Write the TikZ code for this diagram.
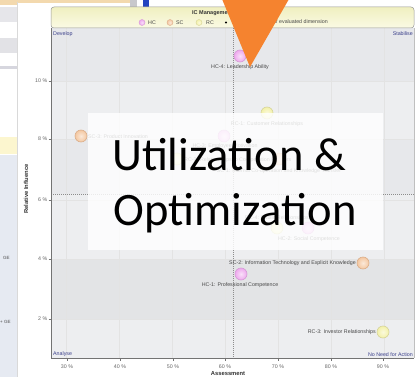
\documentclass[tikz,border=0pt]{standalone}
\usepackage{fontspec}
\setmainfont{Liberation Sans}
\newfontfamily\bigfont{Carlito}
\definecolor{hcf}{HTML}{EEA8EE}
\definecolor{hcd}{HTML}{D69AD6}
\definecolor{scf}{HTML}{F4C7A0}
\definecolor{scd}{HTML}{DBAE8A}
\definecolor{rcf}{HTML}{F3F1A8}
\definecolor{rcd}{HTML}{D6D49A}
\definecolor{orng}{HTML}{F5832F}
\definecolor{quadc}{HTML}{3A3F8A}
\definecolor{bandA}{HTML}{E7E8EB}
\definecolor{bandB}{HTML}{EDEEF0}
\definecolor{bandC}{HTML}{E3E4E6}
\definecolor{hdrtop}{HTML}{F0EFC0}
\definecolor{hdrbot}{HTML}{FAFAE4}
\definecolor{stripc}{HTML}{E6EAF2}
\definecolor{tanc}{HTML}{F3D9AE}
\definecolor{grayA}{HTML}{E6E6EA}
\definecolor{grayB}{HTML}{E2E2E6}
\definecolor{grayC}{HTML}{D6D6DE}
\definecolor{yelc}{HTML}{FCF6CF}
\definecolor{grayD}{HTML}{C8C8CC}
\definecolor{bluec}{HTML}{2344C0}
\begin{document}
\begin{tikzpicture}[x=1pt,y=-1pt,
  lbl/.style={font=\fontsize{5.3}{6}\selectfont, text=black!72, inner sep=0pt},
  ticklbl/.style={font=\fontsize{5.3}{6}\selectfont, text=black!60, inner sep=0pt},
  quadlbl/.style={font=\fontsize{5.3}{6}\selectfont, text=quadc, inner sep=0pt},
  axlbl/.style={font=\bfseries\fontsize{5.8}{6.5}\selectfont, text=black!80, inner sep=0pt},
  bigtxt/.style={font=\bigfont\fontsize{46.5}{50}\selectfont, text=black, inner sep=0pt, anchor=base},
  hcdot/.style={circle, minimum size=12pt, inner sep=0pt, draw=hcd, line width=0.6pt, inner color=hcf!35, outer color=hcf},
  scdot/.style={circle, minimum size=12pt, inner sep=0pt, draw=scd, line width=0.6pt, inner color=scf!40, outer color=scf},
  rcdot/.style={circle, minimum size=12pt, inner sep=0pt, draw=rcd, line width=0.6pt, inner color=rcf!40, outer color=rcf},
  gridl/.style={draw=black!11, line width=0.4pt},
  meanl/.style={draw=black!45, line width=0.5pt, dash pattern=on 1pt off 1pt}]
\useasboundingbox (0,0) rectangle (417,377);
\fill[white] (0,0) rectangle (417,377);
% background application strip
\fill[tanc] (0,0) rectangle (130,3);
\fill[tanc] (0,0) rectangle (17,5);
\fill[grayA] (0,7) rectangle (17,22);
\fill[grayB] (0,38) rectangle (17,53);
\fill[grayC] (0,66) rectangle (17,69);
\fill[yelc] (0,137) rectangle (17,154);
\fill[stripc] (0,155) rectangle (17,377);
\node[font=\fontsize{4.5}{5}\selectfont, text=black!70, inner sep=0pt, anchor=west] (ge1) at (3,258) {GE};
\node[font=\fontsize{4.5}{5}\selectfont, text=black!70, inner sep=0pt, anchor=west] (ge2) at (0,322) {+ GE};
\fill[grayD] (130,0) rectangle (137,8);
\fill[bluec] (143,0) rectangle (149,8);
\draw[black!15] (17,2) -- (17,377);
% plot bands
\fill[bandA] (51,28) rectangle (414,81);
\fill[bandB] (51,81) rectangle (414,139);
\fill[bandA] (51,139) rectangle (414,194);
\fill[bandB] (51,194) rectangle (414,259);
\fill[bandC] (51,259) rectangle (414,319);
\fill[bandB] (51,319) rectangle (414,358);
% grid
\foreach \gx in {66,119,172,225,278,331,384} \draw[gridl] (\gx,28) -- (\gx,358);
\foreach \gy in {81,139,200,259,319} \draw[gridl] (51,\gy) -- (414,\gy);
% mean lines
\draw[meanl] (233,28) -- (233,358);
\draw[meanl] (51,194) -- (414,194);
% frame
\draw[black!55, line width=0.6pt] (51,28) -- (51,358) -- (414,358);
\draw[black!25, line width=0.5pt] (414,28) -- (414,358);
% header
\draw[draw=black!40, line width=0.5pt, top color=hdrtop, bottom color=hdrbot, rounded corners=3pt] (51,28) -- (51,7) -- (414,7) -- (414,28) -- cycle;
\node[font=\bfseries\fontsize{5.5}{6}\selectfont, text=black!80, inner sep=0pt, anchor=west] (title) at (192,13) {IC Management Portfolio};
\shade[inner color=hcf!40, outer color=hcf, draw=hcd, line width=0.4pt] (142,22.5) circle (3);
\node[lbl, anchor=west] (lhc) at (148,22.5) {HC};
\shade[inner color=scf!40, outer color=scf, draw=scd, line width=0.4pt] (170,22.5) circle (3);
\node[lbl, anchor=west] (lsc) at (176,22.5) {SC};
\shade[inner color=rcf!40, outer color=rcf, draw=rcd, line width=0.4pt] (199,22.5) circle (3);
\node[lbl, anchor=west] (lrc) at (206,22.5) {RC};
\fill[black] (226,22.5) circle (1.2);
\node[lbl, anchor=east] (lev) at (328,22.5) {Average of evaluated dimension};
% y ticks
\foreach \ty/\tl in {81/10, 139/8, 200/6, 259/4, 319/2} {
  \draw[black!55, line width=0.4pt] (48.5,\ty) -- (51,\ty);
  \node[ticklbl, anchor=east] at (47.5,\ty) {\tl\ \%};
}
% x ticks
\foreach \tx/\tl in {67/30, 120/40, 173/50, 225/60, 278/70, 331/80, 383/90} {
  \draw[black!55, line width=0.4pt] (\tx,358) -- (\tx,360.5);
  \node[ticklbl] at (\tx,367) {\tl\ \%};
}
\node[axlbl, rotate=90] (ylab) at (26,189) {Relative Influence};
\node[axlbl] (xlab) at (228,374) {Assessment};
% quadrant labels
\node[quadlbl, anchor=west] (q1) at (53,34) {Develop};
\node[quadlbl, anchor=east] (q2) at (413,34) {Stabilise};
\node[quadlbl, anchor=west] (q3) at (53,354.5) {Analyse};
\node[quadlbl, anchor=east] (q4) at (413,354.5) {No Need for Action};
% data points
\node[hcdot] (hc4) at (240,56) {};
\node[lbl] (hc4l) at (240,67) {HC-4: Leadership Ability};
\node[rcdot] (rc1) at (267,113) {};
\node[lbl] (rc1l) at (267,124) {RC-1: Customer Relationships};
\node[hcdot] (hc3) at (224,136) {};
\node[lbl] (hc3l) at (225,146) {HC-3: Employee Motivation};
\node[scdot] (sc3) at (81,136) {};
\node[lbl, anchor=west] (sc3l) at (88,137) {SC-3: Product Innovation};
\node[rcdot] (rc2) at (177,159) {};
\node[lbl, anchor=west] (rc2l) at (184,160) {RC-2: Relationships to Co-operation Partners};
\node[scdot] (sc1) at (279,159) {};
\node[lbl] (sc1l) at (279,171) {SC-1: Internal Co-operation and Knowledge Transfer};
\node[rcdot] (rc4) at (277,228) {};
\node[lbl] (rc4l) at (277,218) {RC-4: Public Relationships};
\node[hcdot] (hc2) at (308,228) {};
\node[lbl] (hc2l) at (309,239) {HC-2: Social Competence};
\node[scdot] (sc2) at (363,263) {};
\node[lbl, anchor=east] (sc2l) at (356,263) {SC-2: Information Technology and Explicit Knowledge};
\node[hcdot] (hc1) at (241,274) {};
\node[lbl] (hc1l) at (240,285) {HC-1: Professional Competence};
\node[rcdot] (rc3) at (383,332) {};
\node[lbl, anchor=east] (rc3l) at (376,332) {RC-3: Investor Relationships};
% overlay box
\fill[white, fill opacity=0.82] (88,113) rectangle (383,250);
\node[bigtxt] (t1) at (229,170) {Utilization \&};
\node[bigtxt] (t2) at (235,225) {Optimization};
% orange arrow
\fill[orng] (222,-1) -- (289,-1) -- (250,67) -- cycle;
\end{tikzpicture}
\end{document}
